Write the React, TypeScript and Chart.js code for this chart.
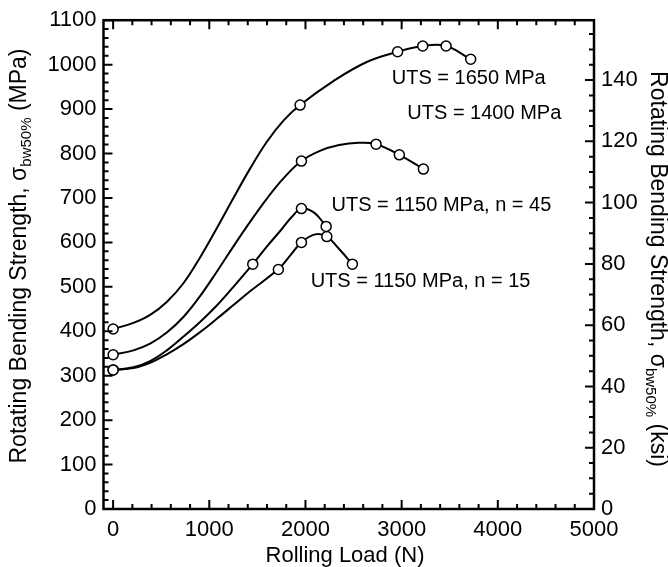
import React, { useEffect, useRef } from "react";
import { Chart, registerables } from "chart.js";

Chart.register(...registerables);

const MPA_PER_KSI = 6.894757;

// Measured points (open circles)
const load1650 = [0, 1944, 2958, 3219, 3462, 3718];
const strength1650 = [405, 909, 1029, 1042, 1042, 1012];
const load1400 = [0, 1958, 2734, 2976, 3226];
const strength1400 = [347, 783, 821, 797, 765];
const load1150n45 = [0, 1452, 1958, 2215];
const strength1150n45 = [313, 551, 676, 636];
const load1150n15 = [0, 1718, 1958, 2222, 2488];
const strength1150n15 = [313, 539, 600, 613, 551];

// Fitted curves
const curveLoad1650 = [0, 211, 385, 558, 731, 904, 1078, 1251, 1424, 1597, 1771, 1944, 2290, 2637, 2958, 3219, 3462, 3718];
const curveStrength1650 = [405, 419, 437, 466, 508, 566, 632, 700, 766, 826, 874, 909, 963, 1006, 1029, 1042, 1042, 1012];
const curveLoad1400 = [0, 211, 385, 558, 731, 904, 1078, 1251, 1424, 1597, 1771, 1958, 2150, 2350, 2550, 2734, 2976, 3226];
const curveStrength1400 = [347, 357, 372, 397, 432, 479, 534, 591, 646, 698, 744, 783, 806, 819, 824, 821, 797, 765];
const curveLoad1150n45 = [0, 211, 385, 558, 731, 904, 1078, 1251, 1452, 1600, 1750, 1857, 1958, 2090, 2215];
const curveStrength1150n45 = [313, 319, 333, 357, 388, 421, 458, 500, 551, 591, 629, 657, 676, 667, 636];
const curveLoad1150n15 = [0, 211, 385, 558, 731, 904, 1078, 1251, 1424, 1718, 1840, 1958, 2100, 2222, 2350, 2488];
const curveStrength1150n15 = [313, 317, 329, 348, 371, 398, 428, 459, 490, 540, 570, 600, 618, 613, 585, 551];

const seriesLabels = ["UTS = 1650 MPa", "UTS = 1400 MPa", "UTS = 1150 MPa, n = 45", "UTS = 1150 MPa, n = 15"];

const xTickValues = [0, 1000, 2000, 3000, 4000, 5000];
const yTickValues = [0, 100, 200, 300, 400, 500, 600, 700, 800, 900, 1000, 1100];
const ksiTickValues = [0, 20, 40, 60, 80, 100, 120, 140];

const FONT = "'Liberation Sans', Arial, Helvetica, sans-serif";

const pts = (xs: number[], ys: number[]) => xs.map((x, i) => ({ x, y: ys[i] }));

const markerSet = (label: string, xs: number[], ys: number[]) => ({
  label,
  data: pts(xs, ys),
  showLine: false,
  pointRadius: 5,
  pointHoverRadius: 5,
  pointBorderWidth: 1.5,
  pointBackgroundColor: "#ffffff",
  pointBorderColor: "#000000",
  borderColor: "#000000",
  order: 0,
});

const curveSet = (label: string, xs: number[], ys: number[]) => ({
  label,
  data: pts(xs, ys),
  showLine: true,
  pointRadius: 0,
  borderColor: "#000000",
  borderWidth: 2,
  tension: 0.4,
  order: 1,
});

const frameAndText = {
  id: "frameAndText",
  afterDraw(chart: any) {
    const ctx = chart.ctx as CanvasRenderingContext2D;
    const { left, right, top, bottom } = chart.chartArea;
    const xs = chart.scales.x;
    const ys = chart.scales.y;
    const ks = chart.scales.y2;
    ctx.save();
    ctx.strokeStyle = "#000";
    ctx.lineWidth = 2.5;
    ctx.strokeRect(left, top, right - left, bottom - top);

    ctx.lineWidth = 2;
    ctx.beginPath();
    for (let v = 0; v <= 5000; v += 200) {
      const p = xs.getPixelForValue(v);
      const len = v % 1000 === 0 ? 9 : 5;
      ctx.moveTo(p, bottom);
      ctx.lineTo(p, bottom - len);
      ctx.moveTo(p, top);
      ctx.lineTo(p, top + len);
    }
    for (let v = 0; v <= 1100; v += 20) {
      const p = ys.getPixelForValue(v);
      const len = v % 100 === 0 ? 9 : 5;
      ctx.moveTo(left, p);
      ctx.lineTo(left + len, p);
    }
    for (let v = 0; v <= 155; v += 5) {
      const p = ks.getPixelForValue(v);
      const len = v % 20 === 0 ? 9 : 5;
      ctx.moveTo(right, p);
      ctx.lineTo(right - len, p);
    }
    ctx.stroke();

    // series annotations
    ctx.fillStyle = "#000";
    ctx.font = `20px ${FONT}`;
    ctx.textAlign = "left";
    ctx.textBaseline = "alphabetic";
    const anchors = [
      [2897, 955.7],
      [3059, 877.8],
      [2271, 671],
      [2054, 499],
    ];
    seriesLabels.forEach((t, i) => {
      ctx.fillText(t, xs.getPixelForValue(anchors[i][0]), ys.getPixelForValue(anchors[i][1]));
    });

    // axis titles
    ctx.font = `22px ${FONT}`;
    ctx.textAlign = "center";
    ctx.fillText("Rolling Load (N)", 345, 562);

    const drawSubTitle = (cx: number, cy: number, angle: number, unit: string) => {
      const main = "Rotating Bending Strength, \u03c3";
      const sub = "bw50%";
      const tail = ` (${unit})`;
      ctx.save();
      ctx.translate(cx, cy);
      ctx.rotate(angle);
      ctx.textAlign = "left";
      ctx.font = `23px ${FONT}`;
      const w1 = ctx.measureText(main).width;
      const w3 = ctx.measureText(tail).width;
      ctx.font = `15px ${FONT}`;
      const w2 = ctx.measureText(sub).width;
      const total = w1 + w2 + w3;
      let x = -total / 2;
      ctx.font = `23px ${FONT}`;
      ctx.fillText(main, x, 0);
      x += w1;
      ctx.font = `15px ${FONT}`;
      ctx.fillText(sub, x, 5);
      x += w2;
      ctx.font = `23px ${FONT}`;
      ctx.fillText(tail, x, 0);
      ctx.restore();
    };
    drawSubTitle(26, 256, -Math.PI / 2, "MPa");
    drawSubTitle(651, 269, Math.PI / 2, "ksi");
    ctx.restore();
  },
};

const plain = (v: any) => String(v);

export default function App() {
  const ref = useRef<HTMLCanvasElement | null>(null);
  useEffect(() => {
    if (!ref.current) return;
    const tickFont = { family: FONT, size: 22 };
    const chart = new Chart(ref.current, {
      type: "scatter",
      data: {
        datasets: [
          markerSet(seriesLabels[0], load1650, strength1650),
          markerSet(seriesLabels[1], load1400, strength1400),
          markerSet(seriesLabels[2], load1150n45, strength1150n45),
          markerSet(seriesLabels[3], load1150n15, strength1150n15),
          curveSet(seriesLabels[0], curveLoad1650, curveStrength1650),
          curveSet(seriesLabels[1], curveLoad1400, curveStrength1400),
          curveSet(seriesLabels[2], curveLoad1150n45, curveStrength1150n45),
          curveSet(seriesLabels[3], curveLoad1150n15, curveStrength1150n15),
        ] as any,
      },
      options: {
        responsive: false,
        animation: false,
        devicePixelRatio: 1,
        layout: { padding: { top: 19, left: 0, right: 0, bottom: 0 } },
        plugins: { legend: { display: false }, tooltip: { enabled: false } },
        scales: {
          x: {
            type: "linear",
            min: -100,
            max: 5000,
            grid: { display: false, drawTicks: false },
            border: { display: false },
            ticks: { font: tickFont, color: "#000", padding: 8, maxRotation: 0, callback: plain },
            afterBuildTicks: (s: any) => {
              s.ticks = xTickValues.map((v) => ({ value: v }));
            },
            afterFit: (s: any) => {
              s.height = 58;
            },
          },
          y: {
            type: "linear",
            position: "left",
            min: 0,
            max: 1100,
            grid: { display: false, drawTicks: false },
            border: { display: false },
            ticks: { font: tickFont, color: "#000", padding: 7, callback: plain },
            afterBuildTicks: (s: any) => {
              s.ticks = yTickValues.map((v) => ({ value: v }));
            },
            afterFit: (s: any) => {
              s.width = 103.5;
            },
          },
          y2: {
            type: "linear",
            position: "right",
            min: 0,
            max: 1100 / MPA_PER_KSI,
            grid: { display: false, drawTicks: false },
            border: { display: false },
            ticks: { font: tickFont, color: "#000", padding: 7, callback: plain },
            afterBuildTicks: (s: any) => {
              s.ticks = ksiTickValues.map((v) => ({ value: v }));
            },
            afterFit: (s: any) => {
              s.width = 74;
            },
          },
        },
      } as any,
      plugins: [frameAndText],
    });
    return () => chart.destroy();
  }, []);
  return (
    <div style={{ position: "absolute", left: 0, top: 0, width: 668, height: 567, background: "#fff" }}>
      <canvas ref={ref} width={668} height={567} style={{ display: "block", width: 668, height: 567 }} />
    </div>
  );
}
